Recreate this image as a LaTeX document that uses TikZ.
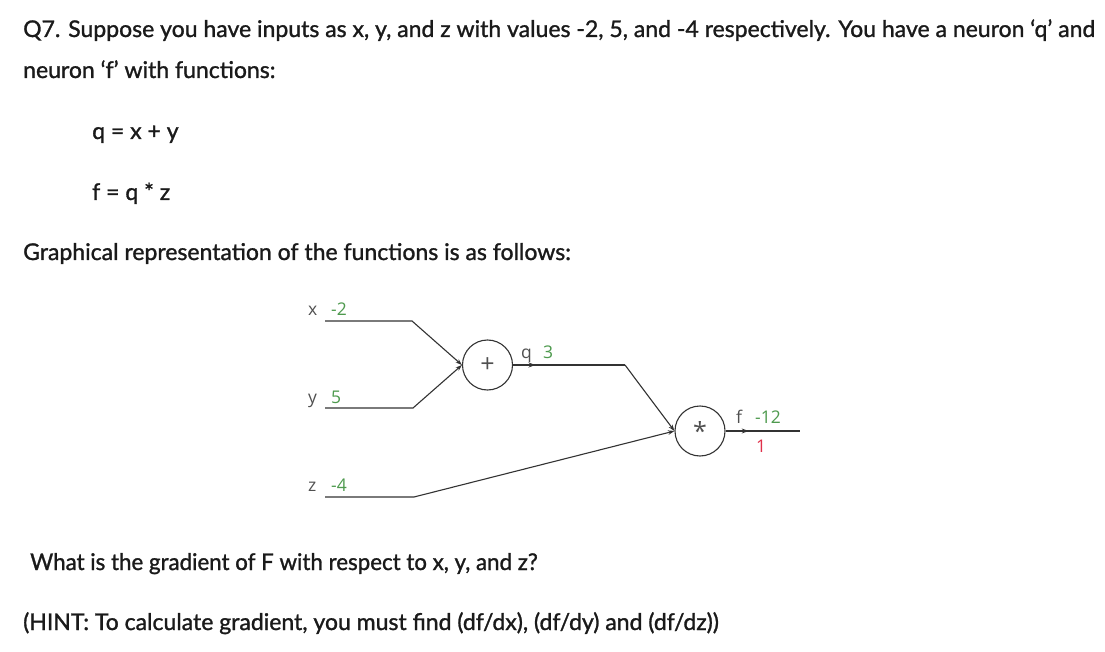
\documentclass[tikz,border=0pt]{standalone}
\usepackage{fontspec}
\setmainfont{Lato}[FakeBold=1.2]
\newfontfamily\diagfont{Open Sans}
\usetikzlibrary{arrows.meta,decorations.markings}
\definecolor{txt}{HTML}{1A1A1A}
\definecolor{lbl}{HTML}{505050}
\definecolor{valg}{HTML}{4E9A4E}
\definecolor{valr}{HTML}{E0304A}
\definecolor{wire}{HTML}{333333}
\tikzset{
  maintext/.style={anchor=base west, inner sep=0pt, text=txt, font=\fontsize{23}{27}\selectfont},
  gate/.style={circle, draw=wire, line width=1.1pt, minimum size=50pt, inner sep=0pt, text=lbl, font=\diagfont\fontsize{25}{28}\selectfont},
  lab/.style={anchor=base west, inner sep=0pt, text=lbl, font=\diagfont\fontsize{17.5}{20}\selectfont},
  val/.style={anchor=base west, inner sep=0pt, text=valg, font=\diagfont\fontsize{17.5}{20}\selectfont},
  rval/.style={anchor=base west, inner sep=0pt, text=valr, font=\diagfont\fontsize{17.5}{20}\selectfont},
  wireline/.style={draw=wire, line width=1.1pt},
  inarrow/.style={wireline, -{Stealth[length=6.5pt,width=4.5pt]}},
  midarrow/.style={wireline, postaction={decorate}, decoration={markings, mark=at position #1 with {\arrow{Stealth[length=7pt,width=5pt]}}}},
}
\begin{document}
\begin{tikzpicture}[x=1pt,y=-1pt]
\useasboundingbox (0,0) rectangle (1105,652);
\fill[white] (0,0) rectangle (1105,652);
% text
\node[maintext] (t1) at (23,37) {Q7. Suppose you have inputs as x, y, and z with values -2, 5, and -4 respectively. You have a neuron ‘q’ and};
\node[maintext] (t2) at (23,78) {neuron ‘f’ with functions:};
\node[maintext] (t3) at (92,139) {q = x + y};
\node[maintext] (t4) at (92,200) {f = q * z};
\node[maintext] (t5) at (23,260) {Graphical representation of the functions is as follows:};
\node[maintext, xscale=0.97] (t6) at (30,570) {What is the gradient of F with respect to x, y, and z?};
\node[maintext] (t7) at (23,630) {(HINT: To calculate gradient, you must find (df/dx), (df/dy) and (df/dz))};
% gates
\node[gate] (plus) at (487.5,365) {+};
\node[gate] (mul) at (700,431) {*};
% coordinates
\coordinate (xs) at (325,321);
\coordinate (xb) at (412,321);
\coordinate (ys) at (325,408);
\coordinate (yb) at (413,408);
\coordinate (zs) at (325,497);
\coordinate (zb) at (414,497);
\coordinate (qb) at (625,365);
\coordinate (fe) at (800,431);
% connectors
\draw[inarrow] (xs) -- (xb) -- (plus.west);
\draw[inarrow] (ys) -- (yb) -- (plus.west);
\draw[inarrow] (zs) -- (zb) -- (mul.west);
\draw[inarrow] (qb) -- (mul.west);
\draw[midarrow=0.2] (plus.east) -- (qb);
\draw[midarrow=0.31] (mul.east) -- (fe);
% labels
\node[lab] (lx) at (308,315) {x};
\node[val] (vx) at (331,315) {-2};
\node[lab] (ly) at (308,403) {y};
\node[val] (vy) at (331,403) {5};
\node[lab] (lz) at (308,491) {z};
\node[val] (vz) at (331,491) {-4};
\node[lab] (lq) at (521,358) {q};
\node[val] (vq) at (543,358) {3};
\node[lab] (lf) at (736,423) {f};
\node[val] (vf) at (755,423) {-12};
\node[rval] (rf) at (756,452) {1};
\end{tikzpicture}
\end{document}
